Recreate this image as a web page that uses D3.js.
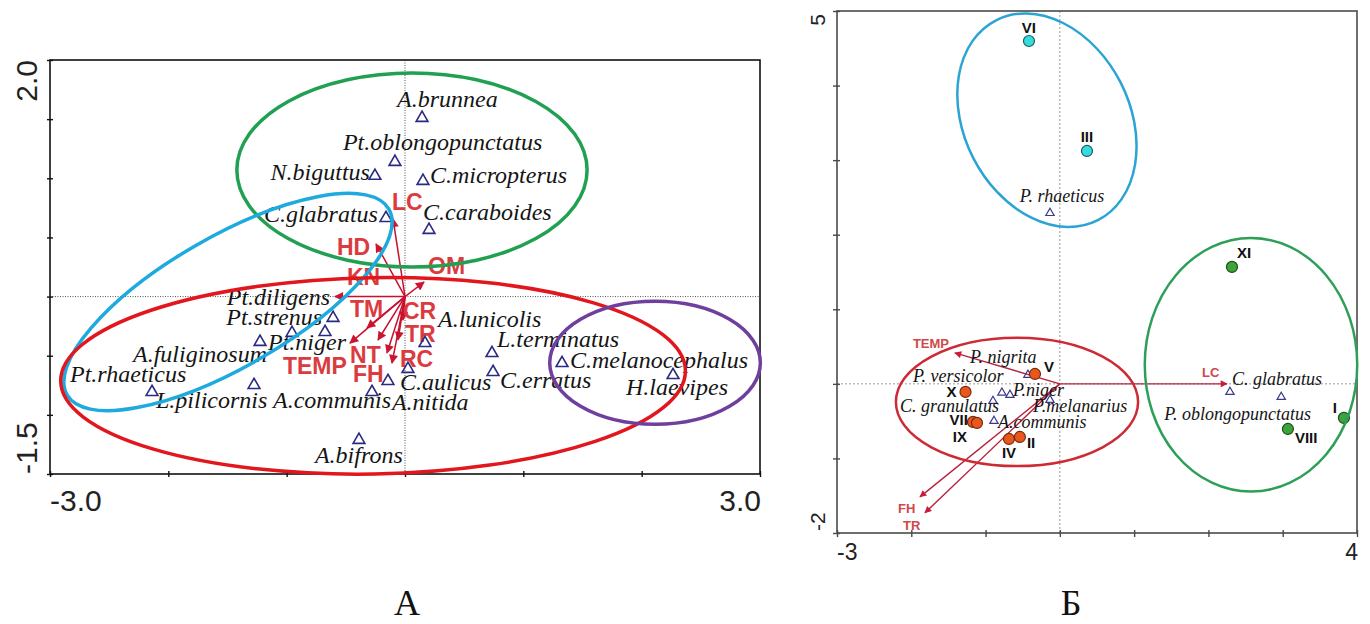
<!DOCTYPE html>
<html>
<head>
<meta charset="utf-8">
<script src="https://cdn.jsdelivr.net/npm/d3@7"></script>
<style>
  body { margin: 0; background: #fff; }
</style>
</head>
<body>
<div id="chart"></div>
<script>
// ---------- panel A: species scores ----------
const speciesA = ["A.brunnea", "Pt.oblongopunctatus", "N.biguttus", "C.micropterus", "C.glabratus",
  "C.caraboides", "Pt.diligens", "Pt.strenus", "Pt.niger", "A.fuliginosum", "Pt.rhaeticus",
  "L.pilicornis", "A.communis", "C.aulicus", "A.nitida", "A.bifrons", "A.lunicolis",
  "L.terminatus", "C.erratus", "C.melanocephalus", "H.laevipes"];
const speciesAx = [0.144, -0.085, -0.254, 0.152, -0.161, 0.203, -0.608, -0.676, -0.955, -1.225, -2.138,
  -1.276, -0.279, -0.144, 0.025, -0.389, 0.169, 0.735, 0.744, 1.327, 2.265];
const speciesAy = [1.510, 1.138, 1.020, 0.977, 0.664, 0.563, -0.181, -0.300, -0.308, -0.384, -0.807,
  -0.748, -0.807, -0.714, -0.612, -1.212, -0.394, -0.478, -0.638, -0.563, -0.664];

// panel A: environmental vectors
const envA = ["LC", "HD", "KN", "OM", "TM", "CR", "TR", "RC", "NT", "FH", "TEMP"];
const envAx = [-0.101, -0.245, -0.592, 0.161, -0.321, -0.017, -0.059, -0.110, -0.228, -0.152, -0.465];
const envAy = [0.656, 0.445, 0.0, 0.123, -0.265, -0.198, -0.367, -0.562, -0.367, -0.477, -0.393];

// panel A: group ellipses (centre, semi-axes in axis units, tilt in degrees)
const groupsA = ["green", "cyan", "red", "purple"];
const groupsAcx = [0.059, -1.496, -0.27, 2.113];
const groupsAcy = [1.07, -0.046, -0.67, -0.56];
const groupsArx = [1.48, 1.57, 2.64, 0.89];
const groupsAry = [0.82, 0.55, 0.83, 0.52];
const groupsAangle = [0, -30, -1, 0];

const xTicksA = [-3, -2, -1, 0, 1, 2, 3];
const yTicksA = [-1.5, -1, -0.5, 0, 0.5, 1, 1.5, 2];
const xLabelsA = ["-3.0", "3.0"];
const yLabelsA = ["-1.5", "2.0"];

// ---------- panel Б ----------
const sites = ["VI", "III", "XI", "VIII", "I", "V", "X", "VII", "IX", "IV", "II"];
const sitesX = [-0.416, 0.365, 2.317, 3.07, 3.824, -0.335, -1.27, -1.17, -1.116, -0.685, -0.538];
const sitesY = [4.598, 3.123, 1.568, -0.605, -0.457, 0.133, -0.108, -0.511, -0.524, -0.739, -0.712];
const sitesGroup = ["cyan", "cyan", "green", "green", "green", "red", "red", "red", "red", "red", "red"];

const speciesB = ["P. rhaeticus", "P. nigrita", "P. versicolor", "P.niger", "C. granulatus",
  "A.communis", "P.melanarius", "C. glabratus", "P. oblongopunctatus"];
const speciesBx = [-0.133, -0.43, -0.78, -0.672, -0.90, -0.887, -0.133, 2.29, 2.98];
const speciesBy = [2.29, 0.12, -0.12, -0.149, -0.23, -0.498, -0.216, -0.109, -0.176];

const envB = ["TEMP", "LC", "FH", "TR"];
const envBx = [-1.413, 2.25, -1.883, -1.816];
const envBy = [0.415, 0.0, -1.515, -1.73];

const groupsB = ["cyan", "red", "green"];
const groupsBcx = [-0.174, -0.577, 2.573];
const groupsBcy = [3.535, -0.243, 0.255];
const groupsBrx = [1.51, 1.63, 1.43];
const groupsBry = [1.11, 0.86, 1.70];
const groupsBangle = [63, 0, 0];

const xTicksB = [-3, -2, -1, 0, 1, 2, 3, 4];
const yTicksB = [-2, -1, 0, 1, 2, 3, 4, 5];
const xLabelsB = ["-3", "4"];
const yLabelsB = ["-2", "5"];

// ---------- layout / style ----------
const labelPosA = {
  "A.brunnea": ["start", -25, -11], "Pt.oblongopunctatus": ["start", -52, -12],
  "N.biguttus": ["end", -5, 4], "C.micropterus": ["start", 7, 2], "C.glabratus": ["end", -8, 4],
  "C.caraboides": ["start", -6, -10], "Pt.diligens": ["end", -3, -13], "Pt.strenus": ["end", -3, -7],
  "Pt.niger": ["start", -24, 17], "A.fuliginosum": ["end", 7, 20], "Pt.rhaeticus": ["start", -82, -10],
  "L.pilicornis": ["start", -98, 23], "A.communis": ["start", -99, 16], "C.aulicus": ["start", 12, 9],
  "A.nitida": ["start", -16, 41], "A.bifrons": ["start", -44, 23], "A.lunicolis": ["start", 13, -16],
  "L.terminatus": ["start", 5, -6], "C.erratus": ["start", 7, 16], "C.melanocephalus": ["start", 8, 5],
  "H.laevipes": ["start", -47, 20]
};
const envLabelPosA = {
  LC: [-1, -9], HD: [-39, 11], KN: [12, -12], OM: [4, -8], TM: [-17, -11], CR: [0, -1],
  TR: [7, 2], RC: [8, 4], NT: [-28, 23], FH: [-34, 29], TEMP: [-67, 31]
};
const siteLabelPos = {
  VI: ["middle", 0, -8], III: ["middle", 0, -9], XI: ["start", 5, -9], VIII: ["start", 7, 14],
  I: ["end", -7, -5], V: ["start", 9, -2], X: ["end", -9, 5], VII: ["end", -5, 3],
  IX: ["end", -10, 19], IV: ["middle", 0, 19], II: ["start", 7, 11]
};
const labelPosB = {
  "P. rhaeticus": ["middle", 12, -11], "P. nigrita": ["start", -58, -12],
  "P. versicolor": ["start", -89, -11], "P.niger": ["start", 3, 1], "C. granulatus": ["start", -93, 11],
  "A.communis": ["start", 4, 7], "P.melanarius": ["start", -17, 12], "C. glabratus": ["start", 2, -7],
  "P. oblongopunctatus": ["start", -117, 23]
};
const envLabelPosB = { TEMP: [-42, -5], LC: [-25, -7], FH: [-22, 16], TR: [-22, 17] };

const ringA = { green: "#21a052", cyan: "#1eaadf", red: "#e2161d", purple: "#6f3f9e" };
const ringB = { cyan: "#2aa3d5", red: "#cd2a35", green: "#2e9f58" };
const dotFill = { cyan: "#35dcdc", red: "#e8581c", green: "#3ea33a" };
const dotStroke = { cyan: "#1d5d68", red: "#7a2a08", green: "#1c4f1c" };

const svg = d3.select("#chart").append("svg")
    .attr("width", 1370)
    .attr("height", 624);

const defs = svg.append("defs");
function arrowMarker(id, color, w, h) {
  defs.append("marker")
      .attr("id", id)
      .attr("viewBox", "0 0 10 10")
      .attr("refX", 9).attr("refY", 5)
      .attr("markerUnits", "userSpaceOnUse")
      .attr("markerWidth", w).attr("markerHeight", h)
      .attr("orient", "auto")
    .append("path")
      .attr("d", "M0,0L10,5L0,10z")
      .attr("fill", color);
}
arrowMarker("headA", "#cc1530", 12, 9);
arrowMarker("headB", "#c81c3a", 9, 7);

function frame(g, x, y, xt, yt, tick, color) {
  g.append("rect")
      .attr("x", x.range()[0]).attr("y", y.range()[1])
      .attr("width", x.range()[1] - x.range()[0])
      .attr("height", y.range()[0] - y.range()[1])
      .attr("fill", "none").attr("stroke", color).attr("stroke-width", 1.6);
  const bx = g.append("g")
      .attr("transform", `translate(0,${y.range()[0]})`)
      .call(d3.axisBottom(x).tickValues(xt).tickFormat("").tickSizeOuter(0).tickSize(tick[1]));
  bx.selectAll(".tick line").attr("y1", -tick[0]).attr("stroke", color).attr("stroke-width", 1.4);
  bx.select(".domain").remove();
  const by = g.append("g")
      .attr("transform", `translate(${x.range()[0]},0)`)
      .call(d3.axisLeft(y).tickValues(yt).tickFormat("").tickSizeOuter(0).tickSize(tick[1]));
  by.selectAll(".tick line").attr("x1", tick[0]).attr("stroke", color).attr("stroke-width", 1.4);
  by.select(".domain").remove();
}

function crossLines(g, x, y, color, dash) {
  g.append("line")
      .attr("x1", x(0)).attr("x2", x(0)).attr("y1", y.range()[1]).attr("y2", y.range()[0])
      .attr("stroke", color).attr("stroke-width", 1).attr("stroke-dasharray", dash);
  g.append("line")
      .attr("x1", x.range()[0]).attr("x2", x.range()[1]).attr("y1", y(0)).attr("y2", y(0))
      .attr("stroke", color).attr("stroke-width", 1).attr("stroke-dasharray", dash);
}

function rings(g, x, y, names, cx, cy, rx, ry, ang, colors, width) {
  names.forEach((n, i) => {
    const px = x(cx[i]), py = y(cy[i]);
    g.append("ellipse")
        .attr("cx", px).attr("cy", py)
        .attr("rx", x(cx[i] + rx[i]) - px)
        .attr("ry", py - y(cy[i] + ry[i]))
        .attr("transform", `rotate(${ang[i]},${px},${py})`)
        .attr("fill", "none")
        .attr("stroke", colors[n])
        .attr("stroke-width", width);
  });
}

// ================= panel A =================
const xA = d3.scaleLinear().domain([-3, 3]).range([50, 760]);
const yA = d3.scaleLinear().domain([-1.5, 2]).range([474, 60]);
const gA = svg.append("g");

crossLines(gA, xA, yA, "#555", "1,1.5");
frame(gA, xA, yA, xTicksA, yTicksA, [3, 3], "#111");

// env arrows
envA.forEach((n, i) => {
  gA.append("line")
      .attr("x1", xA(0)).attr("y1", yA(0))
      .attr("x2", xA(envAx[i])).attr("y2", yA(envAy[i]))
      .attr("stroke", "#c8102e").attr("stroke-width", 1.5)
      .attr("marker-end", "url(#headA)");
  const o = envLabelPosA[n];
  gA.append("text")
      .attr("x", xA(envAx[i]) + o[0]).attr("y", yA(envAy[i]) + o[1])
      .attr("font-family", "Liberation Sans, Arial, sans-serif")
      .attr("font-weight", "bold").attr("font-size", 23)
      .attr("fill", "#db3b3e")
      .text(n);
});

// species
speciesA.forEach((n, i) => {
  const px = xA(speciesAx[i]), py = yA(speciesAy[i]);
  gA.append("path")
      .attr("d", d3.symbol(d3.symbolTriangle, 60)())
      .attr("transform", `translate(${px},${py})`)
      .attr("fill", "none").attr("stroke", "#2b2a82").attr("stroke-width", 1.6);
  const o = labelPosA[n];
  gA.append("text")
      .attr("x", px + o[1]).attr("y", py + o[2])
      .attr("text-anchor", o[0])
      .attr("font-family", "Liberation Serif, Times New Roman, serif")
      .attr("font-style", "italic").attr("font-size", 24)
      .attr("fill", "#151515")
      .text(n);
});

rings(gA, xA, yA, groupsA, groupsAcx, groupsAcy, groupsArx, groupsAry, groupsAangle, ringA, 3.5);

// axis end labels
gA.append("text").attr("x", xA(-3)).attr("y", 511)
    .attr("font-family", "Liberation Sans, Arial, sans-serif").attr("font-size", 30).attr("fill", "#222")
    .text(xLabelsA[0]);
gA.append("text").attr("x", xA(3) + 1).attr("y", 511).attr("text-anchor", "end")
    .attr("font-family", "Liberation Sans, Arial, sans-serif").attr("font-size", 30).attr("fill", "#222")
    .text(xLabelsA[1]);
gA.append("text").attr("transform", `translate(37,${yA(-1.5)}) rotate(-90)`)
    .attr("font-family", "Liberation Sans, Arial, sans-serif").attr("font-size", 30).attr("fill", "#222")
    .text(yLabelsA[0]);
gA.append("text").attr("transform", `translate(37,${yA(2)}) rotate(-90)`).attr("text-anchor", "end")
    .attr("font-family", "Liberation Sans, Arial, sans-serif").attr("font-size", 30).attr("fill", "#222")
    .text(yLabelsA[1]);
gA.append("text").attr("x", 407).attr("y", 615).attr("text-anchor", "middle")
    .attr("font-family", "Liberation Serif, Times New Roman, serif").attr("font-size", 36).attr("fill", "#111")
    .text("А");

// ================= panel Б =================
const xB = d3.scaleLinear().domain([-3, 4]).range([837, 1357]);
const yB = d3.scaleLinear().domain([-2, 5]).range([533, 11]);
const gB = svg.append("g");

crossLines(gB, xB, yB, "#999", "2,2");
frame(gB, xB, yB, xTicksB, yTicksB, [3, 4], "#4a4a4a");

envB.forEach((n, i) => {
  gB.append("line")
      .attr("x1", xB(0)).attr("y1", yB(0))
      .attr("x2", xB(envBx[i])).attr("y2", yB(envBy[i]))
      .attr("stroke", "#b8203c").attr("stroke-width", 1.4)
      .attr("marker-end", "url(#headB)");
  const o = envLabelPosB[n];
  gB.append("text")
      .attr("x", xB(envBx[i]) + o[0]).attr("y", yB(envBy[i]) + o[1])
      .attr("font-family", "Liberation Sans, Arial, sans-serif")
      .attr("font-weight", "bold").attr("font-size", 13)
      .attr("fill", "#d04848")
      .text(n);
});

speciesB.forEach((n, i) => {
  const px = xB(speciesBx[i]), py = yB(speciesBy[i]);
  gB.append("path")
      .attr("d", d3.symbol(d3.symbolTriangle, 30)())
      .attr("transform", `translate(${px},${py})`)
      .attr("fill", "none").attr("stroke", "#3a3a8c").attr("stroke-width", 1.2);
  const o = labelPosB[n];
  gB.append("text")
      .attr("x", px + o[1]).attr("y", py + o[2])
      .attr("text-anchor", o[0])
      .attr("font-family", "Liberation Serif, Times New Roman, serif")
      .attr("font-style", "italic").attr("font-size", 18)
      .attr("fill", "#151515")
      .text(n);
});

sites.forEach((n, i) => {
  const px = xB(sitesX[i]), py = yB(sitesY[i]);
  gB.append("circle")
      .attr("cx", px).attr("cy", py).attr("r", 5.5)
      .attr("fill", dotFill[sitesGroup[i]])
      .attr("stroke", dotStroke[sitesGroup[i]]).attr("stroke-width", 1.2);
  const o = siteLabelPos[n];
  gB.append("text")
      .attr("x", px + o[1]).attr("y", py + o[2])
      .attr("text-anchor", o[0])
      .attr("font-family", "Liberation Sans, Arial, sans-serif")
      .attr("font-weight", "bold").attr("font-size", 15)
      .attr("fill", "#111")
      .text(n);
});

rings(gB, xB, yB, groupsB, groupsBcx, groupsBcy, groupsBrx, groupsBry, groupsBangle, ringB, 2.5);

gB.append("text").attr("x", xB(-3)).attr("y", 560)
    .attr("font-family", "Liberation Sans, Arial, sans-serif").attr("font-size", 23).attr("fill", "#222")
    .text(xLabelsB[0]);
gB.append("text").attr("x", xB(4) + 1).attr("y", 560).attr("text-anchor", "end")
    .attr("font-family", "Liberation Sans, Arial, sans-serif").attr("font-size", 23).attr("fill", "#222")
    .text(xLabelsB[1]);
gB.append("text").attr("transform", `translate(825,${yB(-2) - 2}) rotate(-90)`)
    .attr("font-family", "Liberation Sans, Arial, sans-serif").attr("font-size", 21).attr("fill", "#222")
    .text(yLabelsB[0]);
gB.append("text").attr("transform", `translate(825,${yB(5) + 3}) rotate(-90)`).attr("text-anchor", "end")
    .attr("font-family", "Liberation Sans, Arial, sans-serif").attr("font-size", 21).attr("fill", "#222")
    .text(yLabelsB[1]);
gB.append("text").attr("x", 1071).attr("y", 615).attr("text-anchor", "middle")
    .attr("font-family", "Liberation Serif, Times New Roman, serif").attr("font-size", 36).attr("fill", "#111")
    .text("Б");
</script>
</body>
</html>
